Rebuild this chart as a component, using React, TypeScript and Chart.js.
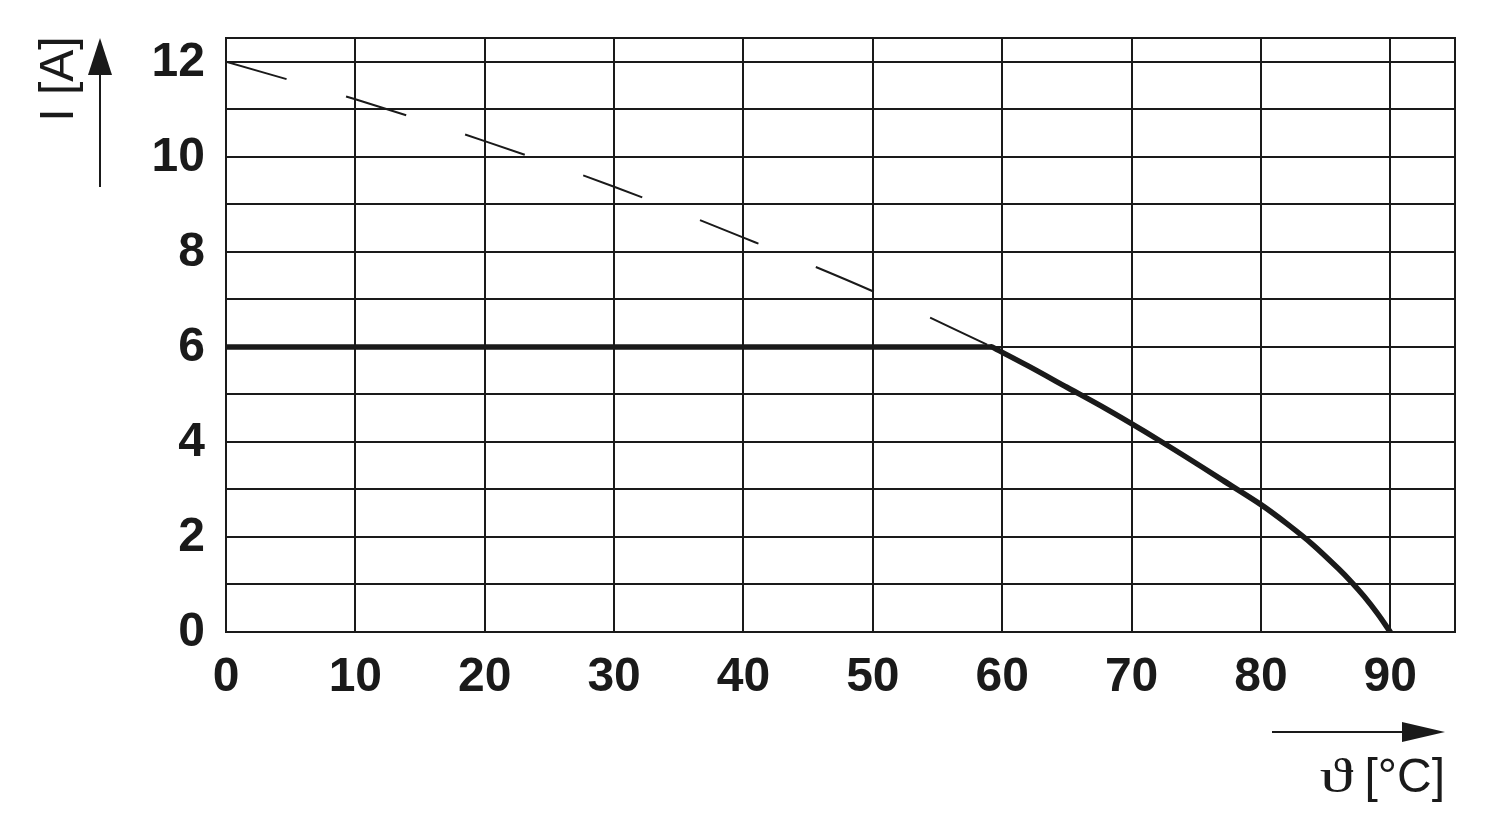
import React, { useEffect, useRef } from "react";
import { Chart, registerables } from "chart.js";

Chart.register(...registerables);

// Data
const flatTemps = [0, 59.2];
const flatCurrent = [6, 6];

const deratingTemps = [59.2, 62, 65, 68, 71, 74, 77, 80, 82, 84, 86, 87, 88, 89, 90];
const deratingCurrent = [6, 5.6, 5.15, 4.7, 4.22, 3.72, 3.2, 2.68, 2.28, 1.84, 1.33, 1.05, 0.74, 0.39, 0];

const dashedTemps = [0, 10, 20, 30, 40, 50, 59.2];
const dashedCurrent = [12, 11.21, 10.33, 9.37, 8.3, 7.17, 6.0];

const xTicks = [0, 10, 20, 30, 40, 50, 60, 70, 80, 90];
const yTicks = [0, 1, 2, 3, 4, 5, 6, 7, 8, 9, 10, 11, 12];
const yLabelValues = [0, 2, 4, 6, 8, 10, 12];

const yTitle = "I [A]";
const xTitleSymbol = "ϑ";
const xTitleUnit = " [°C]";

const INK = "#1a1a1a";

const toPoints = (xs: number[], ys: number[]) => xs.map((x, i) => ({ x, y: ys[i] }));

const framePlugin = {
  id: "frameAndTitles",
  beforeDatasetsDraw(chart: any) {
    const { ctx, chartArea } = chart;
    ctx.save();
    ctx.strokeStyle = INK;
    ctx.lineWidth = 2;
    ctx.strokeRect(chartArea.left, chartArea.top, chartArea.right - chartArea.left, chartArea.bottom - chartArea.top);
    ctx.restore();
  },
  afterDraw(chart: any) {
    const { ctx } = chart;
    ctx.save();
    ctx.fillStyle = INK;
    ctx.strokeStyle = INK;

    // Y title (rotated)
    ctx.save();
    ctx.translate(73, 79);
    ctx.rotate(-Math.PI / 2);
    ctx.font = "48px 'Liberation Sans', Arial, sans-serif";
    ctx.textAlign = "center";
    ctx.textBaseline = "alphabetic";
    ctx.fillText(yTitle, 0, 0);
    ctx.restore();

    // Y arrow
    ctx.lineWidth = 2;
    ctx.beginPath();
    ctx.moveTo(100, 187);
    ctx.lineTo(100, 70);
    ctx.stroke();
    ctx.beginPath();
    ctx.moveTo(100, 38);
    ctx.lineTo(112, 75);
    ctx.lineTo(88, 75);
    ctx.closePath();
    ctx.fill();

    // X arrow
    ctx.beginPath();
    ctx.moveTo(1272, 732);
    ctx.lineTo(1410, 732);
    ctx.stroke();
    ctx.beginPath();
    ctx.moveTo(1445, 732);
    ctx.lineTo(1402, 722);
    ctx.lineTo(1402, 742);
    ctx.closePath();
    ctx.fill();

    // X title
    ctx.textBaseline = "alphabetic";
    ctx.textAlign = "right";
    ctx.font = "48px 'Liberation Sans', Arial, sans-serif";
    ctx.fillText(xTitleUnit, 1445, 792);
    const w = ctx.measureText(xTitleUnit).width;
    ctx.save();
    ctx.translate(1445 - w + 2, 792);
    ctx.scale(1.25, 0.9);
    ctx.font = "54px 'Liberation Serif', 'DejaVu Serif', serif";
    ctx.fillText(xTitleSymbol, 0, 0);
    ctx.restore();

    ctx.restore();
  },
};

export default function App() {
  const canvasRef = useRef<HTMLCanvasElement | null>(null);

  useEffect(() => {
    if (!canvasRef.current) return;
    const chart = new Chart(canvasRef.current, {
      type: "line",
      data: {
        datasets: [
          {
            data: toPoints(dashedTemps, dashedCurrent),
            borderColor: INK,
            borderWidth: 2,
            borderDash: [63, 62],
            pointRadius: 0,
            cubicInterpolationMode: "monotone",
            fill: false,
          },
          {
            data: toPoints(flatTemps, flatCurrent),
            borderColor: INK,
            borderWidth: 5.5,
            pointRadius: 0,
            tension: 0,
            fill: false,
          },
          {
            data: toPoints(deratingTemps, deratingCurrent),
            borderColor: INK,
            borderWidth: 5.5,
            borderCapStyle: "round",
            borderJoinStyle: "round",
            pointRadius: 0,
            tension: 0.3,
            fill: false,
          },
        ],
      },
      options: {
        responsive: false,
        animation: false,
        events: [],
        layout: { padding: { top: 38, right: 45, left: 0, bottom: 0 } },
        plugins: { legend: { display: false }, tooltip: { enabled: false } },
        scales: {
          x: {
            type: "linear",
            min: 0,
            max: 95,
            afterBuildTicks: (scale: any) => {
              scale.ticks = xTicks.map((v) => ({ value: v }));
            },
            afterFit: (scale: any) => {
              scale.height = 188;
              scale.paddingLeft = 0;
              scale.paddingRight = 0;
            },
            grid: { color: INK, lineWidth: 2, drawTicks: false },
            border: { display: false },
            ticks: {
              color: INK,
              font: { family: "'Liberation Sans', Arial, sans-serif", size: 48, weight: "bold" },
              padding: 17,
              maxRotation: 0,
              autoSkip: false,
              callback: (v: any) => String(v),
            },
          },
          y: {
            type: "linear",
            min: 0,
            max: 12.5,
            afterBuildTicks: (scale: any) => {
              scale.ticks = yTicks.map((v) => ({ value: v }));
            },
            afterFit: (scale: any) => {
              scale.width = 226;
              scale.paddingTop = 0;
              scale.paddingBottom = 0;
            },
            grid: { color: INK, lineWidth: 2, drawTicks: false },
            border: { display: false },
            ticks: {
              color: INK,
              font: { family: "'Liberation Sans', Arial, sans-serif", size: 48, weight: "bold" },
              padding: 21,
              labelOffset: 1,
              autoSkip: false,
              callback: (v: any) => (yLabelValues.includes(Number(v)) ? String(v) : ""),
            },
          },
        },
      },
      plugins: [framePlugin],
    } as any);
    return () => chart.destroy();
  }, []);

  return (
    <div style={{ position: "absolute", left: 0, top: 0, width: 1500, height: 820, background: "#fff" }}>
      <canvas ref={canvasRef} width={1500} height={820} style={{ display: "block" }} />
    </div>
  );
}
